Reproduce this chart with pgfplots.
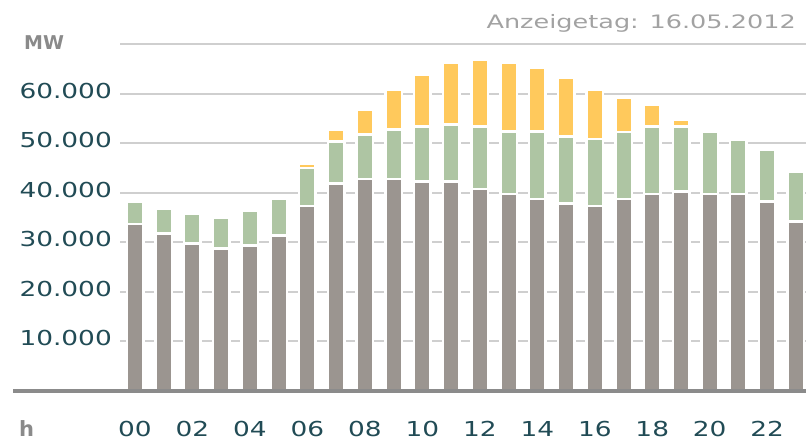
\documentclass[border=0pt]{standalone}
\usepackage{pgfplots}
\usepackage{pgfplotstable}
\pgfplotsset{compat=1.18}
\usepackage{fontspec}
\setmainfont{DejaVu Sans}
\newfontfamily\tickfont[FakeStretch=1.28]{DejaVu Sans}
\newfontfamily\datefont[FakeStretch=1.38]{DejaVu Sans}
\newfontfamily\unitfont{DejaVu Sans}
\definecolor{cconv}{HTML}{9B9590}
\definecolor{cwind}{HTML}{AEC5A3}
\definecolor{csolar}{HTML}{FFC95C}
\definecolor{cgrid}{HTML}{CFCFCF}
\definecolor{ctick}{HTML}{214B55}
\definecolor{cunit}{HTML}{8A8A8A}
\definecolor{cdate}{HTML}{A2A2A2}
\definecolor{cbase}{HTML}{8B8B8B}

\pgfplotstableread{
hour conv wind solar
0 33700 4600 0
1 31850 4950 0
2 29800 6100 0
3 28800 6100 0
4 29350 7050 0
5 31400 7450 0
6 37370 7630 860
7 41960 8400 2510
8 42830 9020 5050
9 42830 10030 7940
10 42290 11110 10440
11 42290 11580 12530
12 40800 12600 13470
13 39800 12600 14000
14 38790 13610 12900
15 37840 13540 11920
16 37370 13530 9900
17 38790 13530 7010
18 39800 13600 4380
19 40330 13070 1480
20 39800 12520 0
21 39800 11040 0
22 38320 10500 0
23 34200 10100 0
}\datatable

\begin{document}
\begin{tikzpicture}
\useasboundingbox (0,0) rectangle (806pt,443pt);
% grid and y tick labels
\begin{axis}[
  at={(120pt,52pt)}, anchor=south west,
  scale only axis, width=686pt, height=346.5pt,
  xmin=-0.522, xmax=23.35, ymin=0, ymax=70000,
  axis x line=none, axis y line=left,
  y axis line style={draw=none},
  scaled y ticks=false,
  ymajorgrids=true,
  major grid style={draw=cgrid, line width=2pt},
  ytick={10000,20000,30000,40000,50000,60000,70000},
  yticklabels={10.000,20.000,30.000,40.000,50.000,60.000,{}},
  major tick length=0pt,
  yticklabel style={font=\tickfont\fontsize{20.6}{24}\selectfont, text=ctick, anchor=east, inner sep=0pt, xshift=-8pt, yshift=3pt},
]
\addplot[draw=none, forget plot] coordinates {(0,0) (23,0)};
\end{axis}
% bars and x tick labels
\begin{axis}[
  at={(120pt,52pt)}, anchor=south west,
  scale only axis, width=686pt, height=346.5pt,
  xmin=-0.522, xmax=23.35, ymin=0, ymax=70000,
  axis y line=none, axis x line=bottom,
  x axis line style={draw=none},
  xtick={0,2,...,22},
  xticklabels={00,02,04,06,08,10,12,14,16,18,20,22},
  major tick length=0pt,
  xticklabel style={font=\tickfont\fontsize{20.6}{24}\selectfont, text=ctick, anchor=base, inner sep=0pt, yshift=-46pt},
  clip=false,
]
\addplot[ybar, bar shift=0pt, bar width=16.5pt, fill=csolar, draw=white, line width=2.5pt] table[x=hour, y expr=\thisrow{conv}+\thisrow{wind}+\thisrow{solar}] {\datatable};
\addplot[ybar, bar shift=0pt, bar width=16.5pt, fill=cwind, draw=white, line width=2.5pt] table[x=hour, y expr=\thisrow{conv}+\thisrow{wind}] {\datatable};
\addplot[ybar, bar shift=0pt, bar width=16.5pt, fill=cconv, draw=white, line width=2.5pt] table[x=hour, y=conv] {\datatable};
\end{axis}
\draw[cbase, line width=4pt] (13pt,51.5pt) -- (806pt,51.5pt);
\node[anchor=base west, inner sep=0pt, text=cunit, font=\unitfont\bfseries\fontsize{19}{22}\selectfont] at (24pt,393pt) {MW};
\node[anchor=base west, inner sep=0pt, text=cunit, font=\unitfont\bfseries\fontsize{21}{24}\selectfont] at (19pt,6pt) {h};
\node[anchor=base east, inner sep=0pt, text=cdate, font=\datefont\fontsize{18.5}{22}\selectfont] at (796pt,414.7pt) {Anzeigetag: 16.05.2012};
\end{tikzpicture}
\end{document}
